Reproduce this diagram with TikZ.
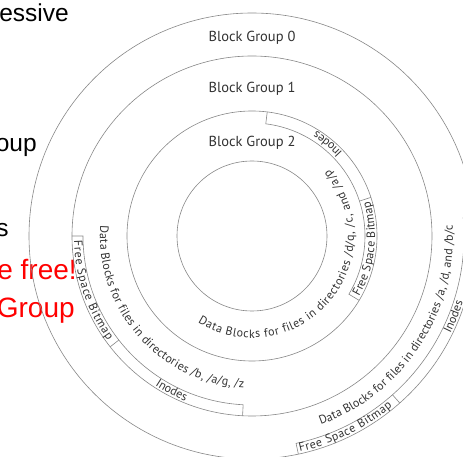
\documentclass[tikz,border=0pt]{standalone}
\usepackage{fontspec}
\setsansfont{PT Sans}
\newfontfamily\slidefont{Liberation Sans}
\usepackage{tikz}
\usetikzlibrary{decorations.text}
\definecolor{ringgray}{RGB}{135,135,135}
\definecolor{inkgray}{RGB}{50,50,50}
\newcommand{\arcfont}{\sffamily\fontsize{12}{14}\selectfont\color{inkgray}}

\begin{document}
\begin{tikzpicture}[x=1pt, y=1pt, line width=0.6pt,
    ring/.style={circle, draw=ringgray, inner sep=0pt},
    band/.style={draw=ringgray},
    blocklabel/.style={text=inkgray, font=\sffamily\fontsize{14.5}{16}\selectfont},
    slide/.style={anchor=base east, inner sep=0pt, font=\slidefont\fontsize{24.5}{28}\selectfont},
    redslide/.style={slide, text=red, font=\slidefont\fontsize{28}{32}\selectfont}]
        \useasboundingbox (-252,-221) rectangle (211,236);
        \clip (-252,-221) rectangle (211,236);

        % Slide text
        \node[slide, anchor=base west] (l1) at (-253,214) {essive};
        \node[slide] (l2) at (-215,84) {oup};
        \node[slide] (l3) at (-243,-1) {s};
        \node[redslide] (l4) at (-175,-44) {e free!};
        \node[redslide] (l5) at (-177,-82) {Group};

        % Rings
        \node[ring, minimum size=446pt] (g0) at (0,0) {};
        \node[ring, minimum size=360pt] (g1) at (0,0) {};
        \node[ring, minimum size=250pt] (g2) at (0,0) {};
        \node[ring, minimum size=150pt] (hub) at (0,0) {};

        % Labels
        \node[blocklabel] (bg0) at (0,198) {Block Group 0};
        \node[blocklabel] (bg1) at (0,147) {Block Group 1};
        \node[blocklabel] (bg2) at (0,93) {Block Group 2};

        % Bands
        \draw[band] (83:125) -- (83:113) arc[start angle=83, end angle=-31, radius=113] -- (-31:125);
        \draw[band] (18:113) -- (18:125);
        \draw[band] (180:180) -- (180:169) arc[start angle=180, end angle=267, radius=169] -- (267:180);
        \draw[band] (218:169) -- (218:180);
        \draw[band] (5:223) -- (5:212) arc[start angle=5, end angle=-78, radius=212] -- (-78:223);
        \draw[band] (-48.5:212) -- (-48.5:223);

        % Text along the rings
        \path[decorate, decoration={text along path, text align=center, text={|\arcfont|Inodes}}]
            (18:123) arc[start angle=18, end angle=83, radius=123];
        \path[decorate, decoration={text along path, text align={fit to path}, text={|\arcfont|Free Space Bitmap}}]
            (-29.5:123) arc[start angle=-29.5, end angle=16.5, radius=123];
        \path[decorate, decoration={text along path, text align={fit to path}, text={|\arcfont|Data Blocks for files in directories /d/q, /c, and /a/p}}]
            (-122:102) arc[start angle=-122, end angle=41, radius=102];
        \path[decorate, decoration={text along path, text align={fit to path}, text={|\arcfont|Free Space Bitmap}}]
            (181.5:178) arc[start angle=181.5, end angle=216, radius=178];
        \path[decorate, decoration={text along path, text align=center, text={|\arcfont|Inodes}}]
            (218:178) arc[start angle=218, end angle=267, radius=178];
        \path[decorate, decoration={text along path, text align={fit to path}, text={|\arcfont|Data Blocks for files in directories /b, /a/g, /z}}]
            (176:152) arc[start angle=176, end angle=267, radius=152];
        \path[decorate, decoration={text along path, text align={fit to path}, text={|\arcfont|Free Space Bitmap}}]
            (-77.5:221) arc[start angle=-77.5, end angle=-50.5, radius=221];
        \path[decorate, decoration={text along path, text align=center, text={|\arcfont|Inodes}}]
            (-48.5:221) arc[start angle=-48.5, end angle=5, radius=221];
        \path[decorate, decoration={text along path, text align={fit to path}, text={|\arcfont|Data Blocks for files in directories /a, /d, and /b/c}}]
            (-70:201) arc[start angle=-70, end angle=3, radius=201];
\end{tikzpicture}
\end{document}
